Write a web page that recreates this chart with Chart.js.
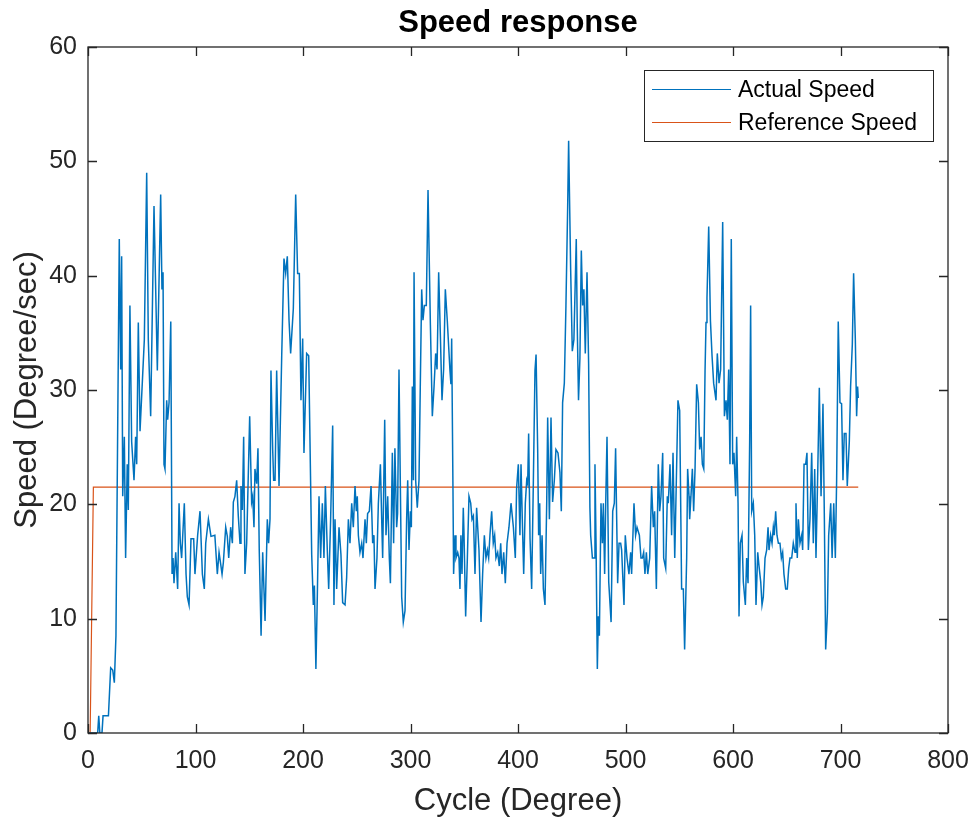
<!DOCTYPE html>
<html>
<head>
<meta charset="utf-8">
<script src="https://cdn.jsdelivr.net/npm/chart.js@4.4.0/dist/chart.umd.min.js"></script>
<style>
  html, body { margin: 0; padding: 0; background: #fff; }
</style>
</head>
<body>
<canvas id="grafico" width="977" height="823"></canvas>
<script>
// Datos (grados / velocidad)
const cycleDeg = [
  0, 9, 10, 11, 13, 14, 19, 21.1, 23, 24.5,
  26, 29.1, 30.4, 31.3, 32.3, 33.8, 35, 36.5, 37.5, 39,
  40.6, 42.8, 44.3, 45.3, 46.8, 48.4, 52.4, 54.6, 56.1, 58.3,
  61.4, 64.5, 67.6, 68.8, 69.8, 70.7, 71.6, 73.2, 74.1, 75.4,
  77, 78.2, 79.1, 80, 81.6, 83.4, 84.7, 85.9, 87.1, 89.6,
  91.2, 92.4, 94, 95.8, 98.3, 99.5, 102, 104.2, 106.4, 108.2,
  109.5, 112, 114.4, 118, 120.3, 121.9, 123.4, 124.7, 125.9, 128.1,
  129.6, 130.9, 132.7, 134.3, 135.2, 136.7, 138.3, 139.8, 141.4, 142.3,
  143.6, 144.8, 146, 147.6, 150.4, 152.2, 153.2, 154.4, 155.3, 156.9,
  158.1, 159.3, 161, 162.5, 164.7, 166.8, 168, 169.3, 170.2, 171.8,
  172.7, 174, 175.5, 177.7, 180.2, 182.3, 183.9, 185.4, 187, 188.5,
  191, 193.2, 195, 196.6, 198.1, 199.7, 200.9, 203.4, 205.3, 208.1,
  209.6, 210.6, 212, 213.3, 214.9, 216.4, 218, 219.5, 220.8, 222.6,
  223.9, 225.7, 227.6, 228.8, 229.8, 231.3, 233.5, 235.3, 236.9, 239.1,
  240.6, 242.2, 243.7, 245.3, 246.8, 248.4, 249.6, 250.5, 251.5, 253,
  254.6, 255.8, 257.7, 258.9, 260.1, 261.7, 263.3, 264.8, 266, 267,
  268.8, 270.1, 272, 273.2, 274.1, 276, 277.2, 278.8, 280.3, 281.3,
  283.1, 284.3, 285.5, 287.1, 288, 289.3, 290.5, 291.8, 293.3, 294.9,
  296.4, 297.4, 298.6, 299.9, 300.8, 301.7, 302.7, 303.3, 304.8, 306.3,
  307.9, 309.1, 310.4, 311.6, 312.9, 314.7, 316.3, 318.5, 320.3, 321.9,
  323.4, 324.7, 326.2, 327.8, 329.3, 330.8, 332.4, 334.2, 336.7, 337.6,
  338.3, 339.5, 340.1, 341.4, 342.3, 343.9, 345.1, 346, 346.9, 347.9,
  349.1, 349.8, 351.3, 352.9, 354.4, 356, 357.2, 358.5, 360, 361.5,
  363.7, 365.6, 367.1, 368.7, 370.2, 371.5, 372.7, 373.9, 375.5, 377,
  378.3, 379.5, 381.1, 382.6, 383.9, 385.1, 386.7, 388.2, 389.8, 391.6,
  393.5, 395.7, 397.5, 398.7, 400.3, 401.8, 402.8, 404, 405.3, 406.8,
  408.1, 409, 409.9, 411.2, 412.7, 414.3, 415.8, 416.8, 418.3, 419.2,
  420.2, 421.1, 422.4, 423.6, 425.1, 426.7, 427.6, 429.2, 430.7, 432.2,
  433.8, 435.3, 437.2, 439, 440.3, 441.5, 443.1, 444.6, 446.2, 447.1,
  449, 450.5, 452, 454.2, 455.1, 456.3, 457.6, 458.9, 460.1, 461.3,
  462.6, 464.2, 465.7, 466.9, 467.6, 469.2, 470.7, 471.6, 472.6, 473.8,
  474.7, 475.7, 477.2, 478.5, 479.4, 480.6, 481.6, 482.8, 484.4, 486.6,
  488.1, 489.6, 490.8, 491.8, 492.7, 494, 495.5, 496.4, 498.6, 499.8,
  501.4, 503.2, 504.8, 505.7, 507.9, 509.4, 510.7, 512.9, 514.4, 515.7,
  516.9, 518.1, 519.4, 520.7, 522.5, 524.3, 525.9, 527.1, 528.7, 530.5,
  531.8, 533, 534.6, 535.5, 537.4, 538.9, 539.8, 541.4, 542.9, 544.2,
  545.8, 547.3, 548.8, 550.4, 552.2, 553.8, 555, 556.9, 557.8, 559.1,
  559.7, 560.9, 562.2, 563.4, 564.7, 566.2, 567.8, 569, 570.3, 571.5,
  572.8, 574, 574.9, 575.8, 577.4, 579, 580.5, 582, 584.2, 585.4,
  587, 588.5, 590.4, 592, 593.5, 594.7, 596, 597.2, 598.4, 599.7,
  600.9, 602.5, 603.4, 604.7, 605.6, 606.8, 608.4, 609.6, 611.5, 612.7,
  614, 615.5, 616.4, 617.4, 618.9, 620.2, 621.4, 623, 624.2, 625.8,
  627, 628.2, 629.8, 631.3, 632.6, 633.5, 635, 636.3, 637.5, 638.4,
  639.7, 640.9, 642.2, 643.7, 645, 646.2, 647.4, 649, 650.5, 651.8,
  653, 654.6, 656.1, 657.7, 658.6, 659.8, 660.8, 662.3, 663.9, 664.8,
  666.1, 667.6, 668.8, 670.1, 671.6, 673.2, 674.7, 676, 677.2, 678.4,
  680.3, 681.9, 683.7, 685, 686.2, 687.8, 689, 690.9, 692.2, 693.7,
  695.2, 696.4, 697.9, 699.5, 701, 702.3, 703.5, 705.1, 706.3, 708.2,
  709.4, 711, 712.2, 713.8, 715, 715.9, 716.5
];

const actualSpeed = [
  0, 0, 1.5, 0, 0, 1.5, 1.5, 5.7, 5.5, 4.4,
  8.5, 43.2, 31.8, 41.7, 20.7, 25.9, 15.3, 23.5, 19.5, 37.4,
  25.5, 22.1, 25.9, 23.5, 35.9, 26.4, 34.4, 49, 34.4, 27.7,
  46.1, 31.7, 47.1, 38.8, 40.3, 23.5, 23.1, 29.1, 27.4, 28.9,
  36, 13.9, 15.3, 13.1, 15.8, 12.6, 20.1, 16.6, 15.3, 20.1,
  13.9, 11.9, 11.2, 17, 17, 13.9, 17.3, 19.4, 13.9, 12.6,
  16.6, 18.7, 17.2, 17.3, 13.9, 15.8, 14.8, 13.9, 14.9, 18,
  17.2, 15.3, 18, 16.6, 20.2, 20.7, 22.1, 19, 16.6, 21.6,
  19.5, 25.9, 13.9, 16.6, 27.7, 20.2, 20.7, 18, 23.1, 21.8,
  24.9, 16, 8.5, 15.8, 9.8, 18.7, 16.6, 18.7, 31.7, 24.8,
  22.1, 22.1, 31.7, 21.6, 33, 41.5, 40.2, 41.7, 36.1, 33.2,
  37.1, 47.1, 40.2, 40.2, 29.1, 34.5, 24.5, 33.2, 33, 15.6,
  11.2, 12.9, 5.6, 11.9, 20.7, 15.3, 20.1, 15.3, 21.6, 16,
  12.6, 18.7, 26.9, 11.2, 18.7, 12.6, 18, 15.6, 11.4, 11.2,
  13.6, 18.7, 16.6, 20.1, 18, 21.6, 19.4, 20.7, 17.3, 15.8,
  16.6, 15.3, 18.7, 16.6, 19.2, 19.4, 21.6, 16.6, 17.3, 12.6,
  15.3, 20.1, 23.5, 18.7, 15.3, 27.4, 17.3, 20.7, 15.3, 13.1,
  24.5, 16.6, 24.9, 18, 19.2, 31.8, 22.1, 11.9, 9.7, 10.7,
  18.7, 22.1, 16, 19.4, 18, 30.3, 22.1, 40.3, 22.1, 19.7,
  22.1, 30.3, 38.8, 36.1, 37.4, 37.4, 47.5, 35.7, 27.7, 30.3,
  33.2, 31.8, 40.3, 34.7, 29.1, 31.8, 38.8, 36.1, 31.7, 30.5,
  34.5, 21.4, 13.9, 17.3, 15.3, 15.8, 15.3, 12.6, 17.3, 13.9,
  19.7, 17.3, 10.2, 15.3, 20.7, 20.1, 18.7, 19, 13.9, 19.7,
  16, 9.7, 13.9, 17.3, 15.3, 16, 15.3, 17.3, 19.4, 16.6,
  17.3, 15.3, 15.8, 14.6, 16.6, 13.9, 15.8, 13.1, 16.6, 18,
  20.1, 18, 15.3, 21.4, 23.5, 17.3, 23.5, 18.7, 13.9, 20.1,
  22.1, 21.8, 26.2, 17, 12.6, 22.1, 31.7, 33.1, 24.8, 17.3,
  20.1, 13.9, 17.3, 12.6, 11.2, 20.1, 27.6, 18.7, 27.6, 20.2,
  22.1, 24.8, 24.5, 22.8, 19.4, 28.9, 30.6, 37.4, 46, 51.8,
  40.5, 33.4, 34.4, 43.2, 35.7, 29.1, 32.8, 42.2, 37.4, 38.8,
  33.2, 40.3, 32.3, 19.7, 17.3, 15.3, 15.3, 23.5, 16.6, 5.6,
  10.2, 8.5, 20.1, 16.6, 20.1, 13.9, 20.1, 25.9, 13.2, 9.7,
  19.4, 20.1, 24.9, 18.7, 13.1, 16.6, 16.6, 16, 11.2, 17.3,
  15.3, 13.9, 15.8, 13.9, 20.1, 17.3, 18, 17.3, 15.3, 15.3,
  15.8, 13.9, 15.8, 13.9, 15.3, 21.6, 18, 19.4, 12.6, 23.5,
  19.4, 20.7, 24.5, 15.3, 14.4, 20.7, 20.1, 23.5, 17.3, 24.5,
  15.3, 22.1, 29.1, 28.2, 12.6, 12.6, 7.3, 15.3, 23.1, 20.7,
  18.7, 20.7, 23.1, 19.4, 23.1, 30.5, 28.9, 24.8, 25.9, 23.5,
  23.1, 31.7, 35.9, 38.1, 44.3, 36.1, 33, 30.6, 29.1, 33.2,
  30.6, 31.8, 44.7, 27.7, 29.1, 27.4, 31.8, 23.5, 43.2, 23.5,
  24.5, 20.7, 25.9, 20.1, 10.2, 16.6, 17.3, 13.2, 11.2, 15.3,
  13.1, 25.5, 37.4, 19.4, 20.1, 17.3, 11.2, 15.8, 14.6, 13.2,
  11.2, 11.9, 15.3, 16, 18, 16, 17.3, 16.6, 18, 17.3,
  19.4, 17.3, 16.6, 16.6, 15.3, 15.8, 13.9, 12.6, 12.6, 14.4,
  15.3, 15.3, 16.6, 15.8, 20.1, 15.3, 18.7, 16.6, 17.3, 16,
  23.5, 23.5, 24.5, 16, 18.7, 24.5, 16.6, 23.1, 15.3, 20.7,
  30.2, 20.7, 28.8, 18.7, 7.3, 10.5, 17.3, 20.1, 15.3, 20.1,
  15.3, 22.1, 36, 28.9, 28.8, 22.1, 26.2, 26.2, 21.6, 25.5,
  30.3, 34, 40.2, 34.4, 27.7, 30.3, 29.3
];

const refCycle = [0, 2, 5, 716.5];
const refSpeed = [0, 0, 21.5, 21.5];

const xTicks = [0, 100, 200, 300, 400, 500, 600, 700, 800];
const yTicks = [0, 10, 20, 30, 40, 50, 60];

const colorEjes = '#262626';
const fuente = 'Liberation Sans, Arial, sans-serif';

const aPuntos = (xs, ys) => xs.map((x, i) => ({ x, y: ys[i] }));

// Marco, marcas hacia adentro, titulo y leyenda al estilo MATLAB
const marcoMatlab = {
  id: 'marcoMatlab',
  afterDraw(chart) {
    const { ctx, chartArea: a, scales } = chart;
    const largo = 9;
    ctx.save();
    ctx.strokeStyle = colorEjes;
    ctx.lineWidth = 1.3;
    ctx.strokeRect(a.left, a.top, a.right - a.left, a.bottom - a.top);
    ctx.beginPath();
    xTicks.forEach(v => {
      const px = Math.round(scales.x.getPixelForValue(v)) + 0.5;
      ctx.moveTo(px, a.bottom); ctx.lineTo(px, a.bottom - largo);
      ctx.moveTo(px, a.top); ctx.lineTo(px, a.top + largo);
    });
    yTicks.forEach(v => {
      const py = Math.round(scales.y.getPixelForValue(v)) + 0.5;
      ctx.moveTo(a.left, py); ctx.lineTo(a.left + largo, py);
      ctx.moveTo(a.right, py); ctx.lineTo(a.right - largo, py);
    });
    ctx.stroke();

    // titulo
    ctx.fillStyle = '#000';
    ctx.font = 'bold 31px ' + fuente;
    ctx.textAlign = 'center';
    ctx.textBaseline = 'middle';
    ctx.fillText('Speed response', (a.left + a.right) / 2, 23);

    // leyenda
    const lx = a.right - 304, ly = a.top + 23, lw = 289, lh = 71;
    ctx.fillStyle = '#fff';
    ctx.fillRect(lx, ly, lw, lh);
    ctx.lineWidth = 1;
    ctx.strokeStyle = colorEjes;
    ctx.strokeRect(lx + 0.5, ly + 0.5, lw, lh);
    ctx.font = '23px ' + fuente;
    ctx.textAlign = 'left';
    chart.data.datasets.forEach((ds, i) => {
      const y = ly + 19 + i * 33;
      ctx.strokeStyle = ds.borderColor;
      ctx.lineWidth = 1.2;
      ctx.beginPath();
      ctx.moveTo(lx + 8, y + 0.5);
      ctx.lineTo(lx + 87, y + 0.5);
      ctx.stroke();
      ctx.fillStyle = '#000';
      ctx.fillText(ds.label, lx + 94, y + 2);
    });
    ctx.restore();
  }
};

new Chart(document.getElementById('grafico').getContext('2d'), {
  type: 'line',
  data: {
    datasets: [
      {
        label: 'Actual Speed',
        data: aPuntos(cycleDeg, actualSpeed),
        borderColor: '#0072BD',
        borderWidth: 1.5,
        pointRadius: 0,
        tension: 0,
      },
      {
        label: 'Reference Speed',
        data: aPuntos(refCycle, refSpeed),
        borderColor: '#D95319',
        borderWidth: 1.2,
        pointRadius: 0,
        tension: 0,
      },
    ],
  },
  options: {
    responsive: false,
    animation: false,
    layout: { padding: { top: 47, right: 29, left: 0, bottom: 0 } },
    plugins: {
      legend: { display: false },
      title: { display: false },
      tooltip: { enabled: false },
    },
    scales: {
      x: {
        type: 'linear',
        min: 0,
        max: 800,
        afterBuildTicks: (s) => { s.ticks = xTicks.map(v => ({ value: v })); },
        afterFit: (s) => { s.height = 90; s.paddingLeft = 0; s.paddingRight = 0; },
        grid: { display: false, drawTicks: false },
        border: { display: false },
        ticks: { color: colorEjes, padding: 13, font: { family: fuente, size: 25 }, maxRotation: 0 },
        title: {
          display: true, text: 'Cycle (Degree)', color: colorEjes,
          font: { family: fuente, size: 31 }, padding: { top: 0, bottom: 3 },
        },
      },
      y: {
        min: 0,
        max: 60,
        afterBuildTicks: (s) => { s.ticks = yTicks.map(v => ({ value: v })); },
        afterFit: (s) => { s.width = 88; s.paddingTop = 0; s.paddingBottom = 0; },
        grid: { display: false, drawTicks: false },
        border: { display: false },
        ticks: { color: colorEjes, padding: 11, font: { family: fuente, size: 25 } },
        title: {
          display: true, text: 'Speed (Degree/sec)', color: colorEjes,
          font: { family: fuente, size: 31 }, padding: { top: 9, bottom: 0 },
        },
      },
    },
  },
  plugins: [marcoMatlab],
});
</script>
</body>
</html>
